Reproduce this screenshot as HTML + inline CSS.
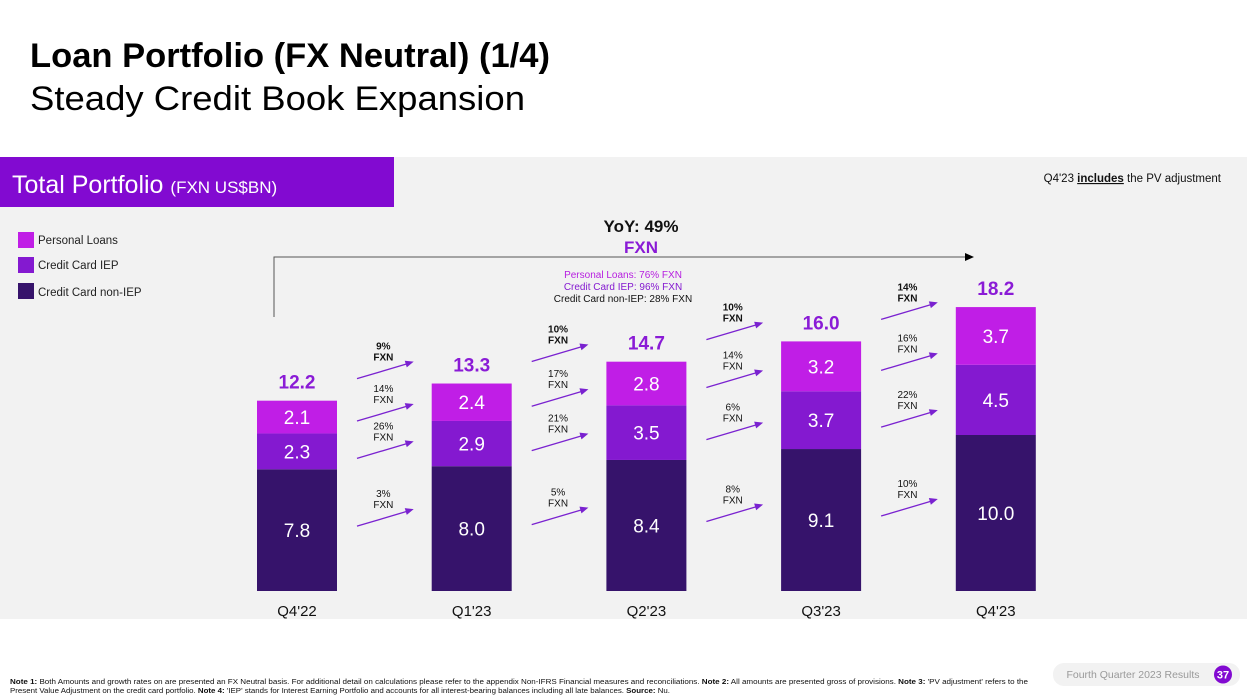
<!DOCTYPE html>
<html><head><meta charset="utf-8"><style>
html,body{margin:0;padding:0;background:#fff}
svg{display:block;font-family:"Liberation Sans",sans-serif}
</style></head><body>
<svg id="chart" width="1247" height="700" viewBox="0 0 1247 700">
<text x="30" y="67" font-size="34" font-weight="bold" fill="#000" textLength="520" lengthAdjust="spacingAndGlyphs">Loan Portfolio (FX Neutral) (1/4)</text>
<text x="30" y="110" font-size="34" fill="#000" textLength="495" lengthAdjust="spacingAndGlyphs">Steady Credit Book Expansion</text>
<rect x="0" y="157" width="1247" height="462" fill="#f2f2f2"/>
<rect x="0" y="157" width="394" height="50" fill="#820ad1"/>
<text x="12" y="193" font-size="25" fill="#fff">Total Portfolio <tspan font-size="17">(FXN US$BN)</tspan></text>
<text x="1221" y="182" font-size="11.5" text-anchor="end" fill="#111">Q4'23 <tspan font-weight="bold" text-decoration="underline">includes</tspan> the PV adjustment</text>
<g>
<rect x="18" y="232" width="16" height="16" fill="#c01ee6"/>
<text x="38" y="244" font-size="11.5" fill="#222">Personal Loans</text>
<rect x="18" y="257" width="16" height="16" fill="#8419d0"/>
<text x="38" y="269" font-size="11.5" fill="#222">Credit Card IEP</text>
<rect x="18" y="283" width="16" height="16" fill="#36136b"/>
<text x="38" y="296" font-size="11.5" fill="#222">Credit Card non-IEP</text>
</g>
<g>
<polyline points="274,317 274,257 966,257" fill="none" stroke="#555" stroke-width="1"/>
<polygon points="974,257 965,253 965,261" fill="#000"/>
<text x="641" y="232" font-size="17" font-weight="bold" text-anchor="middle" fill="#111">YoY: 49%</text>
<text x="641" y="253" font-size="17" font-weight="bold" text-anchor="middle" fill="#8a1bd6">FXN</text>
<text x="623" y="278" font-size="10" text-anchor="middle" fill="#b61ee0">Personal Loans: 76% FXN</text>
<text x="623" y="290" font-size="10" text-anchor="middle" fill="#8419d0">Credit Card IEP: 96% FXN</text>
<text x="623" y="302" font-size="10" text-anchor="middle" fill="#111">Credit Card non-IEP: 28% FXN</text>
</g>
<g id="bars"></g>
<g>
<text x="10" y="684" font-size="7" fill="#111" textLength="1018" lengthAdjust="spacingAndGlyphs"><tspan font-weight="bold">Note 1:</tspan> Both Amounts and growth rates on are presented an FX Neutral basis. For additional detail on calculations please refer to the appendix Non-IFRS Financial measures and reconciliations. <tspan font-weight="bold">Note 2:</tspan> All amounts are presented gross of provisions. <tspan font-weight="bold">Note 3:</tspan> 'PV adjustment' refers to the</text>
<text x="10" y="693" font-size="7" fill="#111" textLength="660" lengthAdjust="spacingAndGlyphs">Present Value Adjustment on the credit card portfolio. <tspan font-weight="bold">Note 4:</tspan> 'IEP' stands for Interest Earning Portfolio and accounts for all interest-bearing balances including all late balances. <tspan font-weight="bold">Source:</tspan> Nu.</text>
<rect x="1053" y="663" width="187" height="23" rx="11" fill="#f2f2f2"/>
<text x="1133" y="678" font-size="10.5" text-anchor="middle" fill="#999">Fourth Quarter 2023 Results</text>
<circle cx="1223" cy="674.5" r="9" fill="#820ad1"/>
<text x="1223" y="678.5" font-size="11" font-weight="bold" text-anchor="middle" fill="#fff">37</text>
</g>
</svg>
<script>
const categories = ["Q4'22","Q1'23","Q2'23","Q3'23","Q4'23"];
const nonIep = [7.8, 8.0, 8.4, 9.1, 10.0];
const iep = [2.3, 2.9, 3.5, 3.7, 4.5];
const personal = [2.1, 2.4, 2.8, 3.2, 3.7];
const totals = [12.2, 13.3, 14.7, 16.0, 18.2];
const growthTotal = ["9%","10%","10%","14%"];
const growthPersonal = ["14%","17%","14%","16%"];
const growthIep = ["26%","21%","6%","22%"];
const growthNonIep = ["3%","5%","8%","10%"];

const NS = "http://www.w3.org/2000/svg";
const g = document.getElementById('bars');
const baseY = 591, pxPerUnit = 15.6, x0 = 297, step = 174.7, bw = 80;
const y = v => baseY - v * pxPerUnit;
const xc = i => x0 + i * step;
function mk(tag, attrs, text) {
  const e = document.createElementNS(NS, tag);
  for (const k in attrs) e.setAttribute(k, attrs[k]);
  if (text !== undefined) e.textContent = text;
  g.appendChild(e);
  return e;
}
const segColors = ["#36136b", "#8419d0", "#c01ee6"];
const segNames = ["non-iep", "iep", "personal-loans"];
categories.forEach((c, i) => {
  const vals = [nonIep[i], iep[i], personal[i]];
  let acc = 0;
  vals.forEach((v, s) => {
    const r = mk('rect', {x: xc(i) - bw / 2, y: y(acc + v), width: bw, height: v * pxPerUnit, fill: segColors[s]});
    
    
    const t = mk('text', {x: xc(i), y: y(acc + v / 2) + 7, 'font-size': 19, 'text-anchor': 'middle', fill: '#fff'}, v.toFixed(1));
    
    
    acc += v;
  });
  const tt = mk('text', {x: xc(i), y: y(totals[i]) - 12, 'font-size': 19, 'font-weight': 'bold', 'text-anchor': 'middle', fill: '#8a1bd6'}, totals[i].toFixed(1));
  
  
  const xl = mk('text', {x: xc(i), y: 616, 'font-size': 15, 'text-anchor': 'middle', fill: '#111'}, c);
  
  
});
function arrow(i, startY, label, bold, name) {
  const x1 = xc(i) + bw / 2 + 20, x2 = xc(i + 1) - bw / 2 - 18;
  const y1 = startY, y2 = startY - 17;
  const l = mk('line', {x1: x1, y1: y1, x2: x2 - 6, y2: y2 + 2, stroke: '#7a22d0', 'stroke-width': 1.3});
  
  
  const ang = Math.atan2(y2 - y1, x2 - x1);
  const px = (d, a) => [x2 - d * Math.cos(ang + a), y2 - d * Math.sin(ang + a)];
  const p1 = px(9, 0.4), p2 = px(9, -0.4);
  const h = mk('polygon', {points: `${x2},${y2} ${p1[0]},${p1[1]} ${p2[0]},${p2[1]}`, fill: '#7a22d0'});
  
  
  const cx = (x1 + x2) / 2 - 2;
  const fw = bold ? 'bold' : 'normal';
  const t1 = mk('text', {x: cx, y: y2 - 12, 'font-size': 10, 'font-weight': fw, 'text-anchor': 'middle', fill: '#111'}, label);
  
  
  const t2 = mk('text', {x: cx, y: y2 - 1, 'font-size': 10, 'font-weight': fw, 'text-anchor': 'middle', fill: '#111'}, 'FXN');
  
  
}
for (let i = 0; i < categories.length - 1; i++) {
  arrow(i, y(totals[i]) - 22, growthTotal[i], true, 'total');
  arrow(i, y(nonIep[i] + iep[i] + personal[i] / 2) + 4, growthPersonal[i], false, 'personal-loans');
  arrow(i, y(nonIep[i] + iep[i] / 2) + 7, growthIep[i], false, 'iep');
  arrow(i, y(nonIep[i] / 2) - 4, growthNonIep[i], false, 'non-iep');
}
</script>
</body></html>
